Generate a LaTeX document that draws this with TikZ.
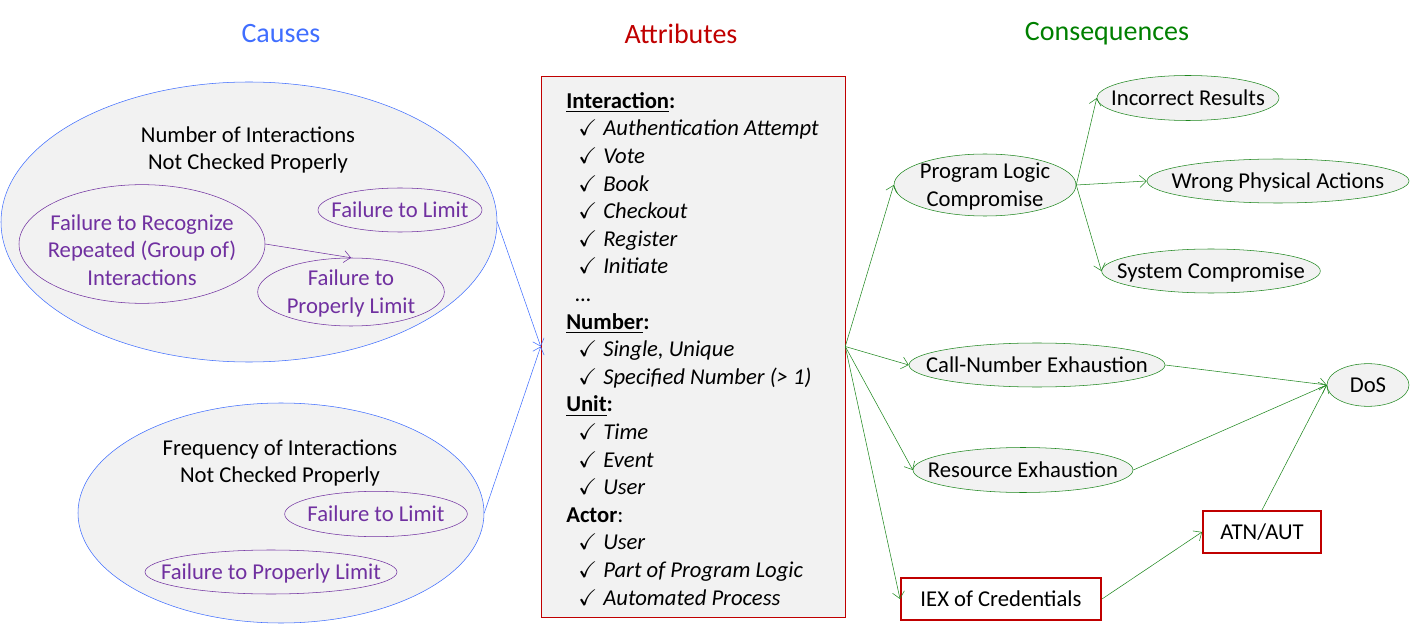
\documentclass[tikz,border=0pt]{standalone}
\usepackage{fontspec}
\setmainfont{Carlito}
\usepackage{amssymb}
\usetikzlibrary{shapes.geometric}
\usetikzlibrary{arrows.meta}

\definecolor{causeblue}{RGB}{64,110,255}
\definecolor{attrred}{RGB}{192,0,0}
\definecolor{conseqgreen}{RGB}{30,135,30}
\definecolor{titlegreen}{RGB}{0,128,0}
\definecolor{failpurple}{RGB}{112,48,160}
\definecolor{boxgray}{RGB}{242,242,242}

\newcommand{\chk}[1]{\hspace*{9pt}\makebox[18.75pt][l]{$\checkmark$}\textit{#1}}
% text that does not widen its ellipse
\newcommand{\inside}[2][0pt]{\makebox[0pt]{\raisebox{\dimexpr-.33em-#1\relax}[0pt][0pt]{\begin{tabular}{@{}c@{}}#2\end{tabular}}}}

\begin{document}
\begin{tikzpicture} [x=.75pt, y=-.75pt, font=\fontsize{17}{20.7}\selectfont,
  >={Straight Barb[length=5pt, width=9pt]},
  cause/.style={ellipse, draw=causeblue, fill=boxgray, inner sep=0},
  fail/.style={ellipse, draw=failpurple, text=failpurple, inner sep=0},
  conseq/.style={ellipse, draw=conseqgreen, fill=boxgray, inner sep=0},
  outcome/.style={draw=attrred, line width=1.5pt, fill=white, inner sep=0},
  heading/.style={font=\fontsize{21}{25}\selectfont}]
\useasboundingbox (0,0) rectangle (1410,627);

% column titles
\node[heading, text=causeblue] (causes) at (281,34) {Causes};
\node[heading, text=attrred] (attributes) at (681,34) {Attributes};
\node[heading, text=titlegreen] (consequences) at (1107,34) {Consequences};

% causes
\node[cause, minimum width=372pt, minimum height=210pt] (number) at (249,222) {};
\node[align=center] (numbertext) at (248,150) {Number of Interactions\\Not Checked Properly};
\node[fail, minimum width=184.5pt, minimum height=89pt] (recognize) at (142,244) {\inside[5pt]{Failure to Recognize\\Repeated (Group of)\\Interactions}};
\node[fail, minimum width=123pt, minimum height=33pt] (limitA) at (400,210) {\inside{Failure to Limit}};
\node[fail, minimum width=140pt, minimum height=51pt] (properA) at (351,292) {\inside{Failure to\\Properly Limit}};
\draw[failpurple, ->] (recognize.east) -- (properA.north);

\node[cause, minimum width=304.5pt, minimum height=165pt] (frequency) at (281,513) {};
\node[align=center] (frequencytext) at (280,463) {Frequency of Interactions\\Not Checked Properly};
\node[fail, minimum width=137pt, minimum height=34pt] (limitB) at (376,514) {\inside{Failure to Limit}};
\node[fail, minimum width=189pt, minimum height=33pt] (properB) at (271,572) {\inside{Failure to Properly Limit}};

% attributes
\node[draw=attrred, fill=boxgray, minimum width=228pt, minimum height=405.75pt, inner sep=0] (attr) at (693,346.5) {};
\node[anchor=north west, align=left, inner sep=0] (attrtext) at (566,92) {%
\underline{\textbf{Interaction}}\textbf{:}\\
\chk{Authentication Attempt}\\
\chk{Vote}\\
\chk{Book}\\
\chk{Checkout}\\
\chk{Register}\\
\chk{Initiate}\\
\hspace*{7pt}\textit{\ldots}\\
\underline{\textbf{Number}}\textbf{:}\\
\chk{Single, Unique}\\
\chk{Specified Number (> 1)}\\
\underline{\textbf{Unit}}\textbf{:}\\
\chk{Time}\\
\chk{Event}\\
\chk{User}\\
\textbf{Actor}:\\
\chk{User}\\
\chk{Part of Program Logic}\\
\chk{Automated Process}};

\draw[causeblue, ->] (number.east) -- (attr.west);
\draw[causeblue, ->] (frequency.east) -- (attr.west);

% consequences
\node[conseq, minimum width=136.5pt, minimum height=46.5pt] (logic) at (985,185) {\inside{Program Logic\\Compromise}};
\node[conseq, minimum width=136.5pt, minimum height=33.75pt] (incorrect) at (1188,98) {\inside{Incorrect Results}};
\node[conseq, minimum width=196.5pt, minimum height=33pt] (physical) at (1278,181) {\inside{Wrong Physical Actions}};
\node[conseq, minimum width=164pt, minimum height=33pt] (system) at (1211,271) {\inside{System Compromise}};
\node[conseq, minimum width=192pt, minimum height=33pt] (callnum) at (1037,365) {\inside{Call-Number Exhaustion}};
\node[conseq, minimum width=61.5pt, minimum height=32pt] (dos) at (1368,385) {\inside{DoS}};
\node[conseq, minimum width=165pt, minimum height=33.75pt] (resource) at (1023,470) {\inside{Resource Exhaustion}};
\node[outcome, minimum width=88.5pt, minimum height=31.5pt] (atn) at (1262,532) {ATN/AUT};
\node[outcome, minimum width=150pt, minimum height=31.5pt] (iex) at (1001,599) {IEX of Credentials};

\draw[conseqgreen, ->] (attr.east) -- (logic.west);
\draw[conseqgreen, ->] (attr.east) -- (callnum.west);
\draw[conseqgreen, ->] (attr.east) -- (resource.west);
\draw[conseqgreen, ->] (attr.east) -- (iex.west);
\draw[conseqgreen, ->] (logic.east) -- (incorrect.west);
\draw[conseqgreen, ->] (logic.east) -- (physical.west);
\draw[conseqgreen, ->] (logic.east) -- (system.west);
\draw[conseqgreen, ->] (callnum.east) -- (dos.west);
\draw[conseqgreen, ->] (resource.east) -- (dos.west);
\draw[conseqgreen, ->] (atn.north) -- (dos.west);
\draw[conseqgreen, ->] (iex.east) -- (atn.west);
\end{tikzpicture}
\end{document}
